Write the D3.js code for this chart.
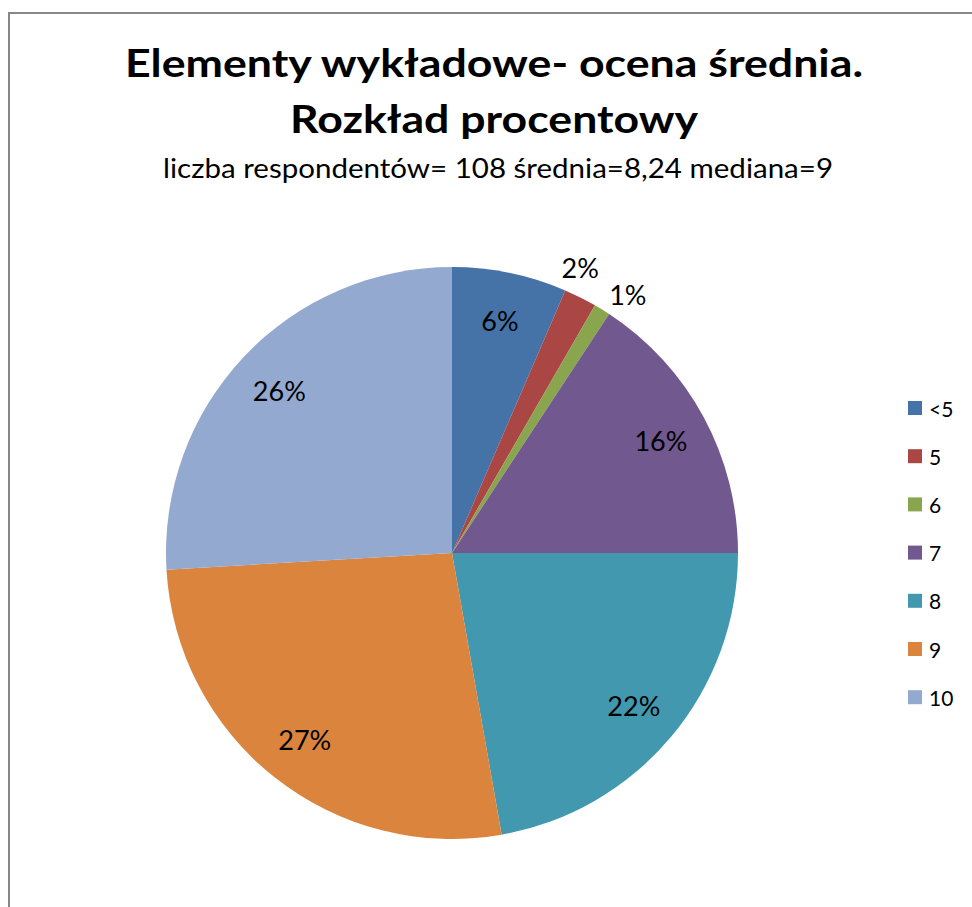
<!DOCTYPE html>
<html>
<head>
<meta charset="utf-8">
<script src="https://cdn.jsdelivr.net/npm/d3@7"></script>
<style>
  body { margin: 0; background: #fff; }
  svg { display: block; font-family: Lato, "Open Sans", sans-serif; }
</style>
</head>
<body>
<div class="container"></div>
<script>
// chart data
const categories = ['<5', '5', '6', '7', '8', '9', '10'];
const counts = [7, 2, 1, 17, 24, 29, 28]; // respondents per grade (n = 108)
const colors = ['#4572a7', '#aa4643', '#89a54e', '#71588f', '#4198af', '#db843d', '#93a9cf'];
const titleLines = ['Elementy wykładowe- ocena średnia.', 'Rozkład procentowy'];
const subtitle = 'liczba respondentów= 108 średnia=8,24 mediana=9';

const width = 972;
const height = 907;
const cx = 452;
const cy = 553;
const radius = 286;

const svg = d3
  .select('.container')
  .append('svg')
  .attr('width', width)
  .attr('height', height);

// chart area frame (top and left edges visible)
svg
  .append('path')
  .attr('d', `M9,${height} V13 H${width}`)
  .attr('fill', 'none')
  .attr('stroke', '#878787')
  .attr('stroke-width', 2);

// titles
const title = svg.append('g').attr('class', 'title').attr('text-anchor', 'middle');
title
  .selectAll('text.main')
  .data(titleLines)
  .join('text')
  .attr('class', 'main')
  .attr('x', 494)
  .attr('y', (d, i) => 77 + i * 56)
  .attr('font-size', 39)
  .attr('font-weight', 'bold')
  .attr('fill', '#000')
  .attr('textLength', (d, i) => (i === 0 ? 738 : 408))
  .attr('lengthAdjust', 'spacingAndGlyphs')
  .text((d) => d);

title
  .append('text')
  .attr('x', 498)
  .attr('y', 178)
  .attr('font-size', 26)
  .attr('fill', '#000')
  .attr('textLength', 670)
  .attr('lengthAdjust', 'spacingAndGlyphs')
  .text(subtitle);

// pie
const total = d3.sum(counts);
const color = d3.scaleOrdinal().domain(categories).range(colors);

const pie = d3
  .pie()
  .sort(null)
  .value((d) => d.value);

const arcs = pie(categories.map((c, i) => ({ cat: c, value: counts[i] })));

const arc = d3.arc().innerRadius(0).outerRadius(radius);
const labelArc = d3.arc().innerRadius(radius * 0.83).outerRadius(radius * 0.83);

const g = svg.append('g').attr('transform', `translate(${cx},${cy})`);

g.selectAll('path')
  .data(arcs)
  .join('path')
  .attr('d', arc)
  .attr('fill', (d) => color(d.data.cat));

// labels: small slices go outside, spread apart so they don't collide
const pct = (d) => Math.round((d.data.value / total) * 100) + '%';
const mid = (d) => (d.startAngle + d.endAngle) / 2;

const small = arcs.filter((d) => d.data.value / total < 0.03);
const minGap = (10 * Math.PI) / 180;
small.forEach((d) => (d.labelAngle = mid(d)));
for (let i = 1; i < small.length; i++) {
  const gap = small[i].labelAngle - small[i - 1].labelAngle;
  if (gap < minGap) {
    const shift = (minGap - gap) / 2;
    small[i - 1].labelAngle -= shift;
    small[i].labelAngle += shift;
  }
}

g.selectAll('text.label')
  .data(arcs)
  .join('text')
  .attr('class', 'label')
  .attr('text-anchor', 'middle')
  .attr('dominant-baseline', 'central')
  .attr('font-size', 27)
  .attr('fill', '#000')
  .attr('transform', (d) => {
    if (d.labelAngle !== undefined) {
      const r = radius + 27;
      return `translate(${r * Math.sin(d.labelAngle)},${-r * Math.cos(d.labelAngle)})`;
    }
    return `translate(${labelArc.centroid(d)})`;
  })
  .text(pct);

// legend
const legend = svg
  .append('g')
  .attr('class', 'legend')
  .attr('transform', 'translate(908,408)');

const item = legend
  .selectAll('g')
  .data(categories)
  .join('g')
  .attr('transform', (d, i) => `translate(0,${i * 48.2})`);

item
  .append('rect')
  .attr('x', 0)
  .attr('y', -7)
  .attr('width', 14)
  .attr('height', 14)
  .attr('fill', (d) => color(d));

item
  .append('text')
  .attr('x', 21)
  .attr('y', 0)
  .attr('dominant-baseline', 'central')
  .attr('font-size', 21)
  .attr('fill', '#000')
  .text((d) => d);
</script>
</body>
</html>
